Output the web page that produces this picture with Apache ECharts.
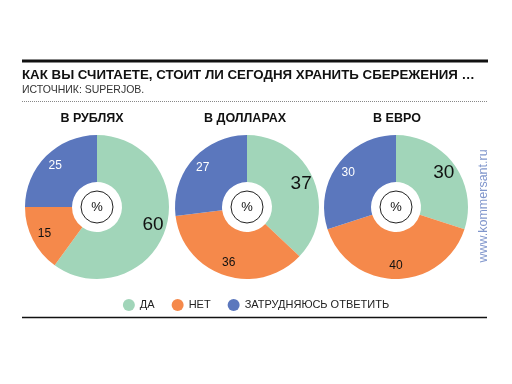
<!DOCTYPE html>
<html><head><meta charset="utf-8">
<script src="https://cdn.jsdelivr.net/npm/echarts@6/dist/echarts.min.js"></script>
<style>html,body{margin:0;padding:0;background:#fff}#c{width:512px;height:384px}</style>
</head><body><div id="c"></div>
<script>
const categories = ['ДА', 'НЕТ', 'ЗАТРУДНЯЮСЬ ОТВЕТИТЬ'];
const pieTitles = ['В РУБЛЯХ', 'В ДОЛЛАРАХ', 'В ЕВРО'];
const rubValues = [60, 15, 25];
const usdValues = [37, 36, 27];
const eurValues = [30, 40, 30];
const mainTitle = 'КАК ВЫ СЧИТАЕТЕ, СТОИТ ЛИ СЕГОДНЯ ХРАНИТЬ СБЕРЕЖЕНИЯ …';
const sourceText = 'ИСТОЧНИК: SUPERJOB.';
const unitText = '%';
const watermark = 'www.kommersant.ru';

const colors = ['#a1d5b9', '#f5894b', '#5b77bd'];
const labelColors = ['#111', '#111', '#fff'];
const labelSizes = [19, 12, 12];
const centers = [[97, 207], [247, 207], [396, 207]];
const allValues = [rubValues, usdValues, eurValues];
const FONT = '"Liberation Sans", Arial, sans-serif';

const series = [];
allValues.forEach((vals, i) => {
  series.push({
    type: 'pie', center: centers[i], radius: [25, 72], startAngle: 90, clockwise: true,
    silent: true, label: { show: false }, labelLine: { show: false },
    data: vals.map((v, k) => ({ value: v, name: categories[k], itemStyle: { color: colors[k] } }))
  });
  series.push({
    type: 'pie', center: centers[i], radius: [40, 72], startAngle: 90, clockwise: true,
    silent: true, labelLine: { show: false },
    itemStyle: { color: 'rgba(0,0,0,0)' },
    label: { show: true, position: 'inside', formatter: '{c}', fontFamily: FONT },
    data: vals.map((v, k) => ({ value: v, name: categories[k],
      label: { color: labelColors[k], fontSize: labelSizes[k] } }))
  });
  series.push({
    type: 'pie', center: centers[i], radius: [0, 16], silent: true,
    itemStyle: { color: '#fff', borderColor: '#222', borderWidth: 1 },
    label: { show: true, position: 'center', formatter: unitText, fontSize: 13, color: '#111', fontFamily: FONT },
    labelLine: { show: false },
    data: [{ value: 1, name: unitText }]
  });
});

const titles = [
  { text: mainTitle, left: 22, top: 69, padding: 0, textStyle: { fontSize: 13.3, fontWeight: 'bold', color: '#111', fontFamily: FONT } },
  { text: sourceText, left: 22, top: 85, padding: 0, textStyle: { fontSize: 10.5, fontWeight: 'normal', color: '#333', fontFamily: FONT } }
];
const titleX = [92, 245, 397];
pieTitles.forEach((t, i) => {
  titles.push({ text: t, left: titleX[i], top: 112, padding: 0, textAlign: 'center',
    textStyle: { fontSize: 12.5, fontWeight: 'bold', color: '#111', fontFamily: FONT } });
});

const chart = echarts.init(document.getElementById('c'), null, { renderer: 'canvas' });
chart.setOption({
  backgroundColor: '#fff',
  animation: false,
  color: colors,
  title: titles,
  legend: {
    data: categories, top: 294, left: 'center', icon: 'circle', itemWidth: 12, itemHeight: 12,
    itemGap: 17, textStyle: { fontSize: 11, color: '#222', fontFamily: FONT }, selectedMode: false
  },
  graphic: [
    { type: 'line', shape: { x1: 22, y1: 61, x2: 488, y2: 61 }, style: { stroke: '#111', lineWidth: 3 } },
    { type: 'line', shape: { x1: 22, y1: 101.5, x2: 488, y2: 101.5 }, style: { stroke: '#888', lineWidth: 1, lineDash: [1, 1] } },
    { type: 'line', shape: { x1: 22, y1: 317.5, x2: 487, y2: 317.5 }, style: { stroke: '#111', lineWidth: 1.5 } },
    { type: 'text', x: 484, y: 206, rotation: Math.PI / 2,
      style: { text: watermark, fill: '#8096cc', fontSize: 12.5, fontFamily: FONT, textAlign: 'center', textVerticalAlign: 'middle' } }
  ],
  series: series
});
</script></body></html>
